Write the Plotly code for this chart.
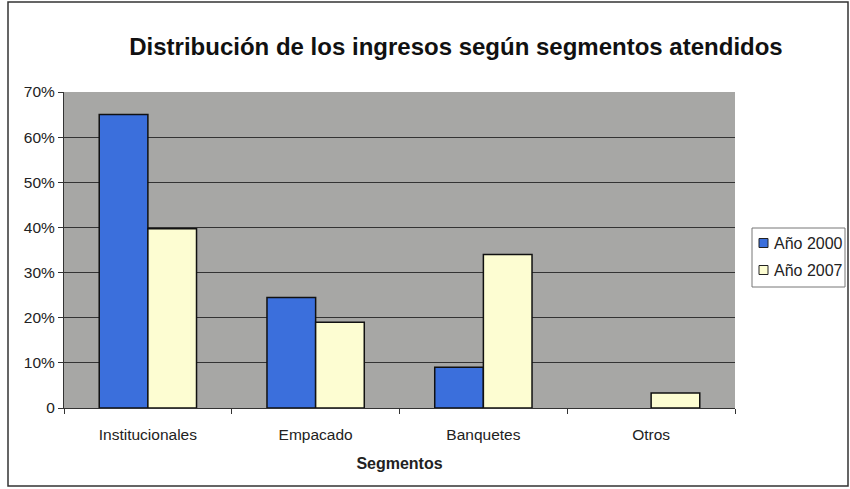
import plotly.graph_objects as go

categories = ["Institucionales", "Empacado", "Banquetes", "Otros"]
anio_2000 = [65, 24.5, 9, 0]
anio_2007 = [39.7, 19, 34, 3.3]
series_names = ["Año 2000", "Año 2007"]
series_colors = ["#3b6fdc", "#fdfdd2"]
tick_vals = [0, 10, 20, 30, 40, 50, 60, 70]
tick_text = ["0", "10%", "20%", "30%", "40%", "50%", "60%", "70%"]

W, H = 850, 489
ml, mr, mt, mb = 64, 115, 92, 81
pw, ph = W - ml - mr, H - mt - mb

def px_x(p):
    return (p - ml) / pw

def px_y(p):
    return (H - mb - p) / ph

line_w_2000 = [1.5 if v > 0 else 0 for v in anio_2000]

fig = go.Figure()
fig.add_trace(go.Bar(name=series_names[0], x=categories, y=anio_2000, showlegend=False,
                     marker=dict(color=series_colors[0], line=dict(color="#111111", width=line_w_2000))))
fig.add_trace(go.Bar(name=series_names[1], x=categories, y=anio_2007, showlegend=False,
                     marker=dict(color=series_colors[1], line=dict(color="#111111", width=1.5))))

shapes = [dict(type="rect", xref="paper", yref="paper",
               x0=px_x(8), x1=px_x(848), y0=px_y(486), y1=px_y(2),
               line=dict(color="#333333", width=1.5), layer="below"),
          dict(type="rect", xref="paper", yref="paper",
               x0=px_x(752), x1=px_x(845), y0=px_y(287), y1=px_y(228),
               line=dict(color="#777777", width=1), fillcolor="white")]
annotations = []
for i, (name, col) in enumerate(zip(series_names, series_colors)):
    cy = 243 + i * 27
    shapes.append(dict(type="rect", xref="paper", yref="paper",
                       x0=px_x(759), x1=px_x(768), y0=px_y(cy + 4.5), y1=px_y(cy - 4.5),
                       line=dict(color="#222222", width=1), fillcolor=col))
    annotations.append(dict(text=name, xref="paper", yref="paper",
                            x=px_x(772), y=px_y(cy), xanchor="left", yanchor="middle",
                            showarrow=False, font=dict(size=16, color="#222222")))

fig.update_layout(
    width=W, height=H,
    margin=dict(l=ml, r=mr, t=mt, b=mb, autoexpand=False),
    barmode="group", bargap=0.42, bargroupgap=0,
    paper_bgcolor="white", plot_bgcolor="#a7a7a5",
    font=dict(family="Liberation Sans, Arial, sans-serif", size=15, color="#222222"),
    title=dict(text="<b>Distribución de los ingresos según segmentos atendidos</b>",
               x=456 / W, xanchor="center", xref="container",
               y=1 - 47 / H, yanchor="middle", yref="container",
               font=dict(size=24, color="#111111")),
    xaxis=dict(title=dict(text="<b>Segmentos</b>", font=dict(size=16), standoff=16),
               showline=True, linecolor="#333333", linewidth=1,
               ticks="outside", ticklen=5, tickcolor="#333333", tickson="boundaries",
               ticklabelstandoff=12,
               showgrid=False, tickfont=dict(size=15.5)),
    yaxis=dict(range=[0, 70], tickvals=tick_vals, ticktext=tick_text,
               showline=True, linecolor="#333333", linewidth=1,
               ticks="outside", ticklen=5, tickcolor="#333333", tickfont=dict(size=15.5),
               showgrid=True, gridcolor="#333333", gridwidth=1, zeroline=False),
    shapes=shapes,
    annotations=annotations,
)

fig.write_html("out.html")
